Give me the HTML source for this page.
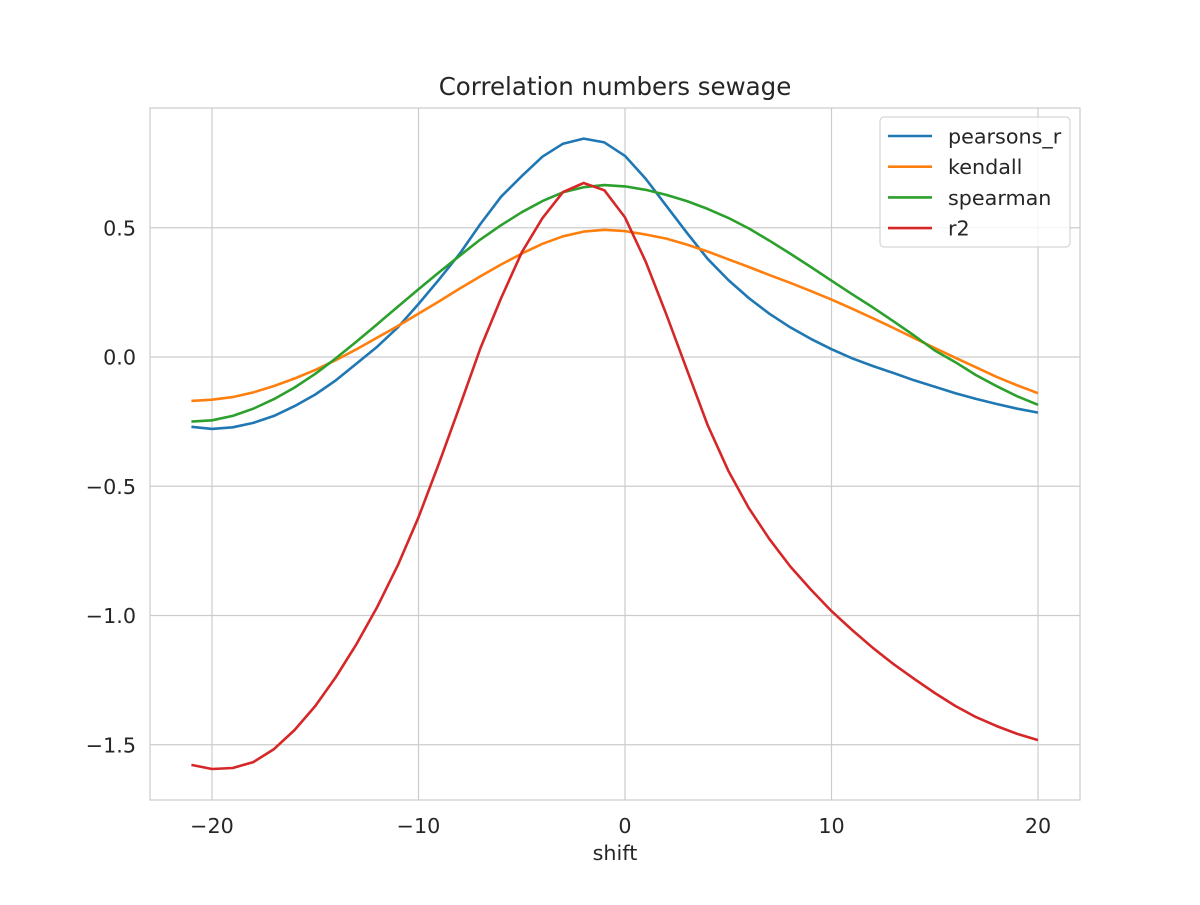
<!DOCTYPE html>
<html><head><meta charset="utf-8"><style>
body{margin:0;background:#fff;}
svg text{font-family:"DejaVu Sans","Liberation Sans",sans-serif;fill:#262626;}
</style></head><body>
<svg id="chart" width="1200" height="900">
<rect x="0" y="0" width="1200" height="900" fill="#fff"/>
<g id="grid"></g>
<rect x="150" y="108" width="930" height="692" fill="none" stroke="#ccc" stroke-width="1.2"/>
<g id="ticks"></g>
<g id="series"></g>
<text x="615" y="95" font-size="24.5" text-anchor="middle">Correlation numbers sewage</text>
<text x="615" y="860" font-size="20.7" text-anchor="middle">shift</text>
<g id="legend">
<rect x="880" y="117" width="190" height="130" rx="4" fill="#fff" fill-opacity="0.8" stroke="#ccc" stroke-width="1"/>
</g>
</svg>
<script>
const shifts=[];for(let s=-21;s<=20;s++)shifts.push(s);
const pearsons=[-0.27,-0.278,-0.272,-0.255,-0.228,-0.19,-0.145,-0.09,-0.025,0.04,0.115,0.205,0.3,0.4,0.515,0.62,0.70,0.775,0.825,0.845,0.83,0.778,0.69,0.585,0.48,0.38,0.298,0.228,0.167,0.115,0.07,0.03,-0.005,-0.035,-0.062,-0.09,-0.115,-0.14,-0.162,-0.182,-0.2,-0.215];
const kendall=[-0.17,-0.165,-0.155,-0.137,-0.112,-0.083,-0.05,-0.012,0.03,0.075,0.12,0.168,0.215,0.265,0.312,0.358,0.4,0.438,0.467,0.485,0.492,0.487,0.474,0.458,0.435,0.408,0.378,0.348,0.317,0.287,0.255,0.222,0.187,0.15,0.112,0.073,0.035,-0.003,-0.04,-0.077,-0.11,-0.14];
const spearman=[-0.25,-0.245,-0.228,-0.2,-0.163,-0.118,-0.065,-0.005,0.06,0.127,0.195,0.262,0.328,0.392,0.455,0.51,0.56,0.603,0.637,0.657,0.665,0.66,0.647,0.627,0.603,0.573,0.538,0.497,0.45,0.4,0.348,0.295,0.243,0.192,0.138,0.083,0.025,-0.02,-0.07,-0.113,-0.152,-0.185];
const r2=[-1.578,-1.594,-1.59,-1.567,-1.517,-1.443,-1.35,-1.238,-1.11,-0.967,-0.805,-0.62,-0.41,-0.19,0.035,0.228,0.405,0.537,0.638,0.673,0.645,0.54,0.37,0.165,-0.05,-0.263,-0.44,-0.585,-0.705,-0.81,-0.9,-0.983,-1.056,-1.125,-1.188,-1.245,-1.3,-1.35,-1.393,-1.428,-1.458,-1.482];
const xTicks=[-20,-10,0,10,20];
const yTicks=[0.5,0,-0.5,-1,-1.5];
const xTickLabels=["\u221220","\u221210","0","10","20"];
const yTickLabels=["0.5","0.0","\u22120.5","\u22121.0","\u22121.5"];
const NS='http://www.w3.org/2000/svg';
const X=v=>625+v*20.65;
const Y=v=>357-v*258.5;
const grid=document.getElementById('grid'),ticks=document.getElementById('ticks'),ser=document.getElementById('series'),leg=document.getElementById('legend');
function mk(t,a,p){const e=document.createElementNS(NS,t);for(const k in a)e.setAttribute(k,a[k]);p.appendChild(e);return e;}
xTicks.forEach((v,i)=>{
 const l=mk('line',{x1:X(v),x2:X(v),y1:108,y2:800,stroke:'#ccc','stroke-width':1.2},grid);
 
 
 const t=mk('text',{x:X(v),y:833,'font-size':20.7,'text-anchor':'middle'},ticks);t.textContent=xTickLabels[i];
 
 
});
yTicks.forEach((v,i)=>{
 const l=mk('line',{x1:150,x2:1080,y1:Y(v),y2:Y(v),stroke:'#ccc','stroke-width':1.2},grid);
 
 
 const t=mk('text',{x:136,y:Y(v)+7.5,'font-size':20.7,'text-anchor':'end'},ticks);t.textContent=yTickLabels[i];
 
 
});
const series=[["pearsons_r",pearsons,"#1f77b4"],["kendall",kendall,"#ff7f0e"],["spearman",spearman,"#2ca02c"],["r2",r2,"#d62728"]];
series.forEach((s,i)=>{
 const d=s[1].map((v,j)=>(j?'L':'M')+X(shifts[j]).toFixed(1)+','+Y(v).toFixed(1)).join('');
 const p=mk('path',{d:d,fill:'none',stroke:s[2],'stroke-width':2.6,'stroke-linejoin':'round'},ser);
 
 
 const ly=136+i*30.7;
 const ll=mk('line',{x1:888,x2:932,y1:ly,y2:ly,stroke:s[2],'stroke-width':2.6},leg);
 
 
 const lt=mk('text',{x:948,y:ly+7.5,'font-size':20.7},leg);lt.textContent=s[0];
 
 
});
</script>
</body></html>
